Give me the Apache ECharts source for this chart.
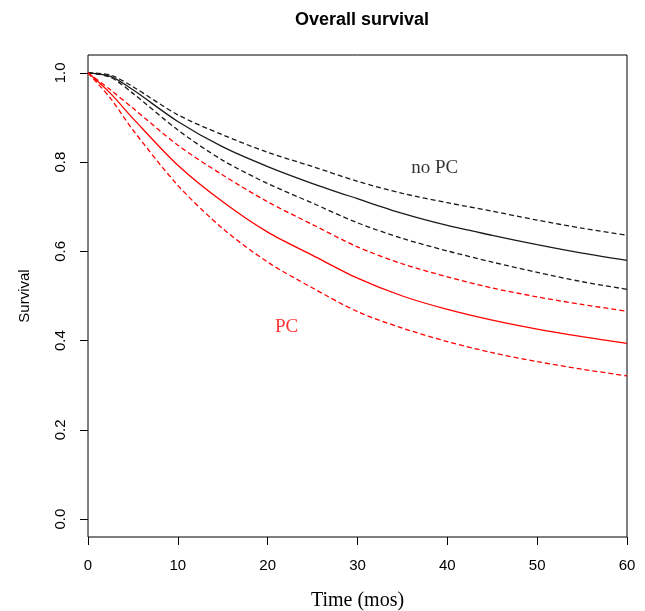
<!DOCTYPE html>
<html>
<head>
<meta charset="utf-8">
<title>Overall survival</title>
<script src="https://cdn.jsdelivr.net/npm/echarts@6/dist/echarts.min.js"></script>
<style>
  html, body { margin: 0; padding: 0; background: #fff; }
  #chart { width: 645px; height: 611px; }
</style>
</head>
<body>
<div id="chart"></div>
<script>
// time points (months) the curves were read at
const months = [0, 2.5, 5, 10, 15, 20, 25, 30, 35, 40, 45, 50, 55, 60];

// no PC group: estimate and confidence band
const noPcUpper = [1, 0.995, 0.969, 0.906, 0.861, 0.822, 0.790, 0.757, 0.730, 0.709, 0.690, 0.670, 0.652, 0.636];
const noPcMean  = [1, 0.992, 0.962, 0.891, 0.834, 0.790, 0.752, 0.718, 0.685, 0.658, 0.636, 0.615, 0.596, 0.580];
const noPcLower = [1, 0.990, 0.954, 0.872, 0.804, 0.752, 0.708, 0.664, 0.629, 0.601, 0.576, 0.553, 0.532, 0.515];

// PC group
const pcUpper = [1, 0.962, 0.921, 0.838, 0.771, 0.711, 0.660, 0.610, 0.572, 0.543, 0.518, 0.498, 0.481, 0.466];
const pcMean  = [1, 0.954, 0.898, 0.793, 0.711, 0.643, 0.591, 0.540, 0.500, 0.470, 0.446, 0.426, 0.409, 0.394];
const pcLower = [1, 0.943, 0.872, 0.748, 0.651, 0.576, 0.518, 0.465, 0.428, 0.398, 0.373, 0.353, 0.336, 0.321];

const xTicks = [0, 10, 20, 30, 40, 50, 60];
const yTicks = [0, 0.2, 0.4, 0.6, 0.8, 1.0];

// text labels placed in the plot
const labelNoPc = { text: 'no PC', at: [38.6, 0.787] };
const labelPc = { text: 'PC', at: [22.1, 0.43] };

const zip = (xs, ys) => xs.map((x, i) => [x, ys[i]]);

function curve(name, values, color, dashed) {
  return {
    name: name,
    type: 'line',
    data: zip(months, values),
    showSymbol: false,
    smooth: 0.3,
    silent: true,
    lineStyle: {
      color: color,
      width: 1.3,
      type: dashed ? [5, 3] : 'solid'
    }
  };
}

function textMark(lab, color) {
  return {
    type: 'scatter',
    data: [lab.at],
    symbolSize: 0,
    silent: true,
    label: {
      show: true,
      position: 'inside',
      formatter: lab.text,
      color: color,
      fontFamily: 'Liberation Serif',
      fontSize: 19
    }
  };
}

const chart = echarts.init(document.getElementById('chart'), null, { renderer: 'canvas' });

const option = {
  animation: false,
  backgroundColor: '#fff',
  title: {
    text: 'Overall survival',
    left: 357,
    top: 6,
    textAlign: 'center',
    textStyle: {
      fontFamily: 'Liberation Sans',
      fontWeight: 'bold',
      fontSize: 18,
      color: '#000'
    }
  },
  grid: {
    left: 88,
    right: 18,
    top: 55,
    bottom: 74,
    outerBoundsMode: 'none',
    show: true,
    borderColor: '#000',
    borderWidth: 1,
    backgroundColor: 'transparent'
  },
  xAxis: {
    type: 'value',
    min: 0,
    max: 60,
    interval: 10,
    name: 'Time (mos)',
    nameLocation: 'middle',
    nameGap: 54,
    nameTextStyle: {
      fontFamily: 'Liberation Serif',
      fontSize: 20,
      color: '#000'
    },
    axisLine: { show: false, onZero: false },
    axisTick: { show: true, length: 8, customValues: xTicks, lineStyle: { color: '#000' } },
    axisLabel: {
      customValues: xTicks,
      margin: 21,
      fontFamily: 'Liberation Sans',
      fontSize: 15,
      color: '#000'
    },
    splitLine: { show: false }
  },
  yAxis: {
    type: 'value',
    min: -0.04,
    max: 1.04,
    name: 'Survival',
    nameLocation: 'middle',
    nameRotate: 90,
    nameGap: 56,
    nameTextStyle: {
      fontFamily: 'Liberation Sans',
      fontSize: 15,
      color: '#000'
    },
    axisLine: { show: false, onZero: false },
    axisTick: { show: true, length: 8, customValues: yTicks, lineStyle: { color: '#000' } },
    axisLabel: {
      customValues: yTicks,
      rotate: 90,
      margin: 20,
      fontFamily: 'Liberation Sans',
      fontSize: 15,
      color: '#000',
      formatter: v => v.toFixed(1)
    },
    splitLine: { show: false }
  },
  series: [
    curve('no PC upper', noPcUpper, '#1a1a1a', true),
    curve('no PC', noPcMean, '#1a1a1a', false),
    curve('no PC lower', noPcLower, '#1a1a1a', true),
    curve('PC upper', pcUpper, '#ff0000', true),
    curve('PC', pcMean, '#ff0000', false),
    curve('PC lower', pcLower, '#ff0000', true),
    textMark(labelNoPc, '#000'),
    textMark(labelPc, '#ff0000')
  ]
};

chart.setOption(option);
</script>
</body>
</html>
